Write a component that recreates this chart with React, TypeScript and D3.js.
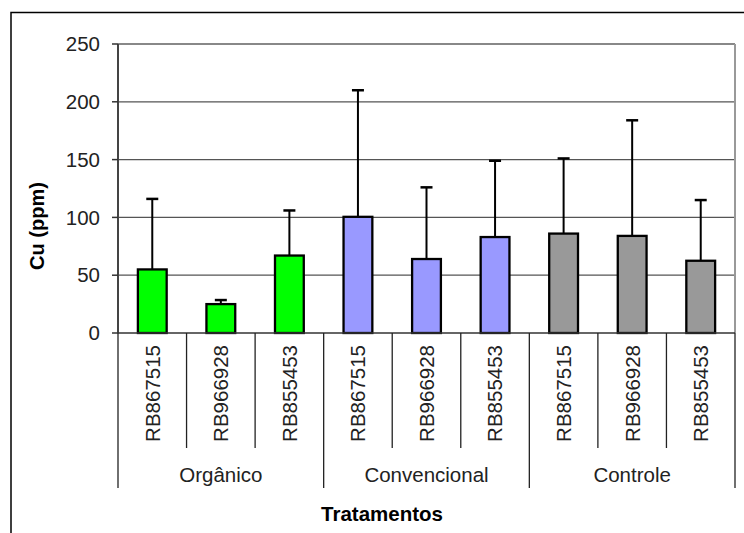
import React from "react";
import * as d3 from "d3";

const groups = ["Orgânico", "Convencional", "Controle"];
const cultivars = ["RB867515", "RB966928", "RB855453"];
const means = [55, 25, 67, 100.5, 64, 83, 86, 84, 62.5];
const errors = [61, 3.5, 39, 109.5, 62, 66, 65, 100, 52.5];
const groupColors = ["#00FF00", "#9999FF", "#999999"];
const yTicks = [0, 50, 100, 150, 200, 250];

const W = 744, H = 533;
const L = 118, R = 735, T = 44, B = 333;

export default function App() {
  const cats = groups.flatMap((g, gi) => cultivars.map((c, ci) => ({ key: `${gi}-${ci}`, g, gi, c })));
  const x = d3.scaleBand<string>().domain(cats.map((d) => d.key)).range([L, R]).paddingInner(0).paddingOuter(0);
  const y = d3.scaleLinear().domain([0, 250]).range([B, T]);
  const bw = x.bandwidth();
  const barW = bw * 0.42;
  const font = "Arial, 'Liberation Sans', sans-serif";

  return (
    <svg width={W} height={H} style={{ position: "absolute", left: 0, top: 0 }} fontFamily={font}>
      <rect x={0} y={0} width={W} height={H} fill="#fff" />
      <rect x={11} y={12.5} width={760} height={540} fill="none" stroke="#000" strokeWidth={1.5} />
      {yTicks.filter((t) => t > 0 && t < 250).map((t) => (
        <line key={t} x1={L} x2={R} y1={y(t)} y2={y(t)} stroke="#555" strokeWidth={1.2} />
      ))}
      <line x1={L} x2={R} y1={y(250)} y2={y(250)} stroke="#888" strokeWidth={2} />
      <line x1={R} x2={R} y1={y(250)} y2={B} stroke="#999" strokeWidth={2} />
      {cats.map((d, i) => {
        const cx = (x(d.key) as number) + bw / 2;
        const top = y(means[i]);
        const et = y(means[i] + errors[i]);
        return (
          <g key={d.key}>
            <line x1={cx} x2={cx} y1={top} y2={et} stroke="#000" strokeWidth={2} />
            <line x1={cx - 6} x2={cx + 6} y1={et} y2={et} stroke="#000" strokeWidth={2.5} />
            <rect x={cx - barW / 2} y={top} width={barW} height={B - top} fill={groupColors[d.gi]} stroke="#000" strokeWidth={2.3} />
          </g>
        );
      })}
      <line x1={L} x2={L} y1={T} y2={B} stroke="#444" strokeWidth={2} />
      {yTicks.map((t) => (
        <g key={t}>
          <line x1={L - 6} x2={L} y1={y(t)} y2={y(t)} stroke="#333" strokeWidth={1.5} />
          <text x={L - 18} y={y(t)} dy="0.35em" textAnchor="end" fontSize={20.5} fill="#222">{t}</text>
        </g>
      ))}
      <line x1={L} x2={R} y1={B} y2={B} stroke="#333" strokeWidth={1.5} />
      {cats.map((d, i) => {
        const xl = x(d.key) as number;
        const isGroupStart = i % 3 === 0;
        return (
          <line key={"s" + d.key} x1={xl} x2={xl} y1={B} y2={isGroupStart ? 488 : 448} stroke="#222" strokeWidth={1.3} />
        );
      })}
      <line x1={R} x2={R} y1={B} y2={488} stroke="#222" strokeWidth={1.3} />
      {cats.map((d) => {
        const cx = (x(d.key) as number) + bw / 2;
        return (
          <text key={"t" + d.key} transform={`translate(${cx},345) rotate(-90)`} textAnchor="end" dy="0.36em" fontSize={20.5} fill="#222">{d.c}</text>
        );
      })}
      {groups.map((g, gi) => {
        const cx = (x(`${gi}-1`) as number) + bw / 2;
        return (
          <text key={g} x={cx} y={482} textAnchor="middle" fontSize={20.5} fill="#222">{g}</text>
        );
      })}
      <text x={382} y={521} textAnchor="middle" fontSize={20.5} fontWeight="bold" fill="#000">Tratamentos</text>
      <text transform={`translate(44,226) rotate(-90)`} textAnchor="middle" fontSize={20} fontWeight="bold" fill="#000">Cu (ppm)</text>
    </svg>
  );
}
